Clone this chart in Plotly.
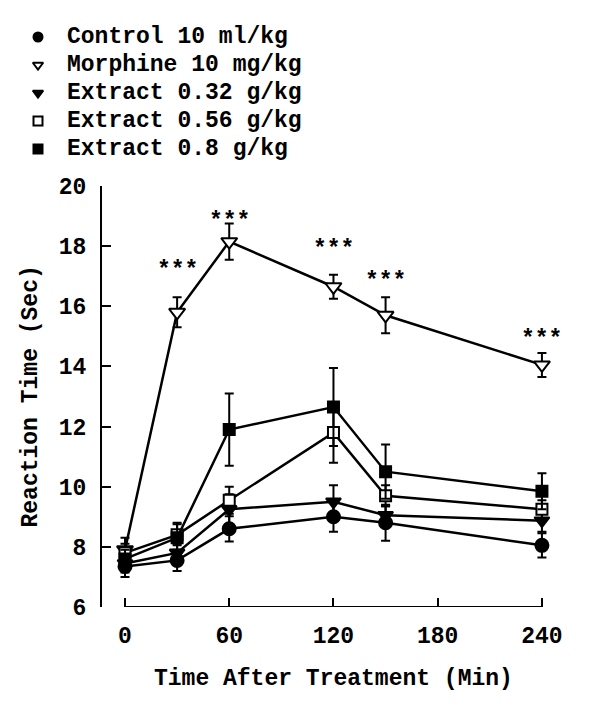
import plotly.graph_objects as go

# ---------------- data ----------------
time = [0, 30, 60, 120, 150, 240]

control = [7.35, 7.55, 8.6, 9.0, 8.8, 8.05]
control_se = [0.35, 0.35, 0.42, 0.5, 0.6, 0.4]

morphine = [7.9, 15.8, 18.15, 16.65, 15.7, 14.05]
morphine_se = [0.4, 0.5, 0.6, 0.4, 0.6, 0.4]

ext032 = [7.45, 7.8, 9.25, 9.5, 9.05, 8.87]
ext032_se = [0.3, 0.3, 0.5, 0.55, 0.3, 0.37]

ext056 = [7.8, 8.4, 9.55, 11.8, 9.7, 9.25]
ext056_se = [0.3, 0.35, 0.45, 1.0, 0.35, 0.3]

ext08 = [7.6, 8.3, 11.9, 12.65, 10.5, 9.85]
ext08_se = [0.3, 0.5, 1.2, 1.3, 0.9, 0.6]

star_time = [30, 60, 120, 150, 240]
star_level = [17.4, 19.05, 18.1, 17.05, 15.1]

x_ticks = [0, 60, 120, 180, 240]
y_ticks = [6, 8, 10, 12, 14, 16, 18, 20]

names = ["Control 10 ml/kg", "Morphine 10 mg/kg", "Extract 0.32 g/kg",
         "Extract 0.56 g/kg", "Extract 0.8 g/kg"]

# ---------------- style / layout (pixels) ----------------
FONT = "Liberation Mono"
FS = 23
BLACK = "black"
W, H = 600, 716
PL, PR, PT, PB = 102, 560, 186, 607      # plot area edges in pixels
TXT = dict(family=FONT, size=FS, color=BLACK, weight="bold")


def fx(px):
    return px / W


def fy(py):
    return (H - py) / H


series = [
    (control, control_se, "circle", BLACK, 13),
    (morphine, morphine_se, "triangle-down", "white", 14),
    (ext032, ext032_se, "triangle-down", BLACK, 13),
    (ext056, ext056_se, "square", "white", 11),
    (ext08, ext08_se, "square", BLACK, 11),
]

fig = go.Figure()

for (vals, se, sym, fill, size), name in zip(series, names):
    fig.add_trace(go.Scatter(
        x=time, y=vals, mode="lines+markers", name=name, showlegend=False,
        line=dict(color=BLACK, width=2.5),
        marker=dict(symbol=sym, color=fill, size=size,
                    line=dict(color=BLACK, width=2)),
        error_y=dict(type="data", array=se, visible=True,
                     color=BLACK, thickness=2, width=4.5),
    ))

# ---- legend key (drawn on a full-page pixel axis) ----
LEG_X_SYM, LEG_X_TXT, LEG_Y0, LEG_DY = 38, 65, 37, 28
for i, ((vals, se, sym, fill, size), name) in enumerate(zip(series, names)):
    row_y = LEG_Y0 + LEG_DY * i
    fig.add_trace(go.Scatter(
        x=[LEG_X_SYM], y=[row_y], xaxis="x2", yaxis="y2", mode="markers",
        showlegend=False, cliponaxis=False, hoverinfo="skip",
        marker=dict(symbol=sym, color=fill, size=9,
                    line=dict(color=BLACK, width=2)),
    ))
    fig.add_annotation(x=fx(LEG_X_TXT), xref="paper", xanchor="left",
                       y=fy(row_y), yref="paper", yanchor="middle",
                       text=name, showarrow=False, font=TXT)

for t, lv in zip(star_time, star_level):
    fig.add_annotation(x=t, y=lv, xref="x", yref="y", text="***",
                       showarrow=False, yanchor="middle", yshift=-7, font=TXT)

# x-axis line only spans the tick range
fig.add_shape(type="line", xref="x", yref="y", x0=x_ticks[0], x1=x_ticks[-1],
              y0=y_ticks[0], y1=y_ticks[0], line=dict(color=BLACK, width=2))

fig.add_annotation(x=(x_ticks[0] + x_ticks[-1]) / 2, xref="x",
                   y=fy(679), yref="paper", yanchor="middle",
                   text="Time After Treatment (Min)", showarrow=False, font=TXT)
fig.add_annotation(x=fx(30), xref="paper", y=(y_ticks[0] + y_ticks[-1]) / 2, yref="y",
                   text="Reaction Time (Sec)", textangle=-90, showarrow=False,
                   xanchor="center", yanchor="middle", font=TXT)

fig.update_layout(
    width=W, height=H,
    margin=dict(l=0, r=0, t=0, b=0, autoexpand=False),
    paper_bgcolor="white", plot_bgcolor="rgba(0,0,0,0)",
    font=TXT, showlegend=False,
    xaxis=dict(domain=[fx(PL), fx(PR)], anchor="y",
               range=[-13.24, 250.4], showgrid=False, zeroline=False,
               showline=False, ticks="inside", ticklen=9, tickwidth=2,
               tickcolor=BLACK, tickvals=x_ticks, ticklabelstandoff=12),
    yaxis=dict(domain=[fy(PB), fy(PT)], anchor="x",
               range=[6, 20], showgrid=False, zeroline=False,
               showline=True, linecolor=BLACK, linewidth=2,
               ticks="inside", ticklen=9, tickwidth=2, tickcolor=BLACK,
               tickvals=y_ticks, ticklabelstandoff=9),
    xaxis2=dict(domain=[0, 1], anchor="y2", range=[0, W], visible=False, fixedrange=True),
    yaxis2=dict(domain=[0, 1], anchor="x2", range=[H, 0], visible=False, fixedrange=True),
)

fig.write_html("out.html", config={"displayModeBar": False},
               post_script="document.body.style.margin='0';")
